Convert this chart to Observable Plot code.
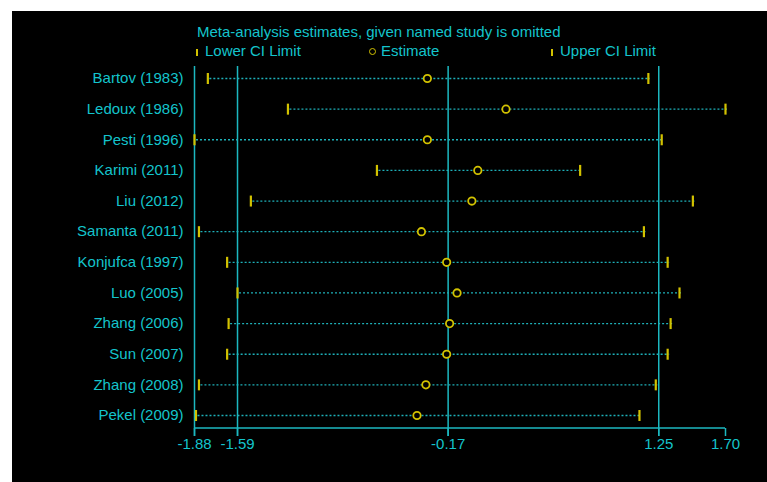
<!DOCTYPE html>
<html>
<head>
<meta charset="utf-8">
<script src="https://cdn.jsdelivr.net/npm/d3@7"></script>
<script src="https://cdn.jsdelivr.net/npm/@observablehq/plot@0.6"></script>
<style>
  html, body { margin: 0; padding: 0; background: #ffffff; }
  #page { position: relative; width: 767px; height: 482px; background: #ffffff; overflow: hidden; }
  #wrap { position: absolute; left: 12px; top: 11px; width: 755px; height: 471px; background: #000000; }
  .txt { position: absolute; font-family: "Liberation Sans", Arial, sans-serif; font-size: 15px; line-height: 15px; color: #14c4cc; white-space: nowrap; }
  .bar { position: absolute; width: 2px; height: 7px; background: #d2c200; }
  .circ { position: absolute; width: 5px; height: 5px; border: 1.5px solid #d2c200; border-radius: 50%; }
  #chart { position: absolute; left: 0; top: 0; }
</style>
</head>
<body>
<div id="page">
  <div id="wrap">
    <div id="chart"></div>
    <div class="txt" style="left:185px; top:13px;">Meta-analysis estimates, given named study is omitted</div>
    <div class="bar" style="left:184px; top:38px;"></div>
    <div class="txt" style="left:193px; top:31.6px;">Lower CI Limit</div>
    <div class="circ" style="left:357px; top:37px;"></div>
    <div class="txt" style="left:369px; top:31.6px;">Estimate</div>
    <div class="bar" style="left:539px; top:38px;"></div>
    <div class="txt" style="left:548px; top:31.6px;">Upper CI Limit</div>
  </div>
</div>
<script>
const studies = ["Bartov (1983)", "Ledoux (1986)", "Pesti (1996)", "Karimi (2011)", "Liu (2012)", "Samanta (2011)", "Konjufca (1997)", "Luo (2005)", "Zhang (2006)", "Sun (2007)", "Zhang (2008)", "Pekel (2009)"];
const lowerCI  = [-1.79, -1.25, -1.88, -0.65, -1.50, -1.85, -1.66, -1.59, -1.65, -1.66, -1.85, -1.87];
const estimate = [-0.31,  0.22, -0.31,  0.03, -0.01, -0.35, -0.18, -0.11, -0.16, -0.18, -0.32, -0.38];
const upperCI  = [ 1.18,  1.70,  1.27,  0.72,  1.48,  1.15,  1.31,  1.39,  1.33,  1.31,  1.23,  1.12];
const refLines = [-1.88, -1.59, -0.17, 1.25];
const xTicks = [-1.88, -1.59, -0.17, 1.25, 1.70];

const rows = studies.map((s, i) => ({study: s, lower: lowerCI[i], est: estimate[i], upper: upperCI[i]}));

const cyanText = "#14c4cc";
const cyanLine = "#1cb8c0";
const dotted = "#1eb0b8";
const yellow = "#d2c200";

// vertical bar symbol for CI limits
const vbar = {
  draw(context, size) {
    const h = Math.sqrt(size / Math.PI);
    context.moveTo(0, -h);
    context.lineTo(0, h);
  }
};

// axis baseline drawn through the x scale
const axisLine = (index, scales, values, dimensions) => {
  const a = xTicks[0], b = xTicks[xTicks.length - 1];
  const yPos = dimensions.height - dimensions.marginBottom;
  return d3.create("svg:line")
    .attr("x1", scales.x(a)).attr("x2", scales.x(b))
    .attr("y1", yPos).attr("y2", yPos)
    .attr("stroke", cyanLine).attr("stroke-width", 1.5)
    .node();
};

const chart = Plot.plot({
  width: 755,
  height: 471,
  marginLeft: 182,
  marginRight: 42,
  marginTop: 55,
  marginBottom: 54,
  style: {background: "transparent", color: cyanText, fontFamily: "'Liberation Sans', Arial, sans-serif", fontSize: "15px", overflow: "visible"},
  x: {domain: [-1.88, 1.70]},
  y: {type: "point", domain: studies, range: [67, 404], padding: 0, round: false},
  marks: [
    Plot.ruleX(refLines, {stroke: cyanLine, strokeWidth: 1.5, insetBottom: -8}),
    Plot.ruleY(rows, {y: "study", x1: "lower", x2: "upper", stroke: dotted, strokeWidth: 1.3, strokeDasharray: "2,2", dx: 2}),
    Plot.dot(rows, {x: "lower", y: "study", symbol: vbar, r: 5.5, stroke: yellow, strokeWidth: 2.2}),
    Plot.dot(rows, {x: "upper", y: "study", symbol: vbar, r: 5.5, stroke: yellow, strokeWidth: 2.2}),
    Plot.dot(rows, {x: "est", y: "study", r: 3.7, stroke: yellow, strokeWidth: 1.8, fill: "#000000"}),
    axisLine,
    Plot.axisX({ticks: xTicks, tickSize: 8, tickPadding: 2, tickFormat: d => d.toFixed(2), stroke: cyanLine, strokeWidth: 1.5, fill: cyanText, fontSize: 15, label: null}),
    Plot.axisY({tickSize: 0, tickPadding: 11, fill: cyanText, fontSize: 15, label: null})
  ]
});
document.getElementById("chart").appendChild(chart);
</script>
</body>
</html>
